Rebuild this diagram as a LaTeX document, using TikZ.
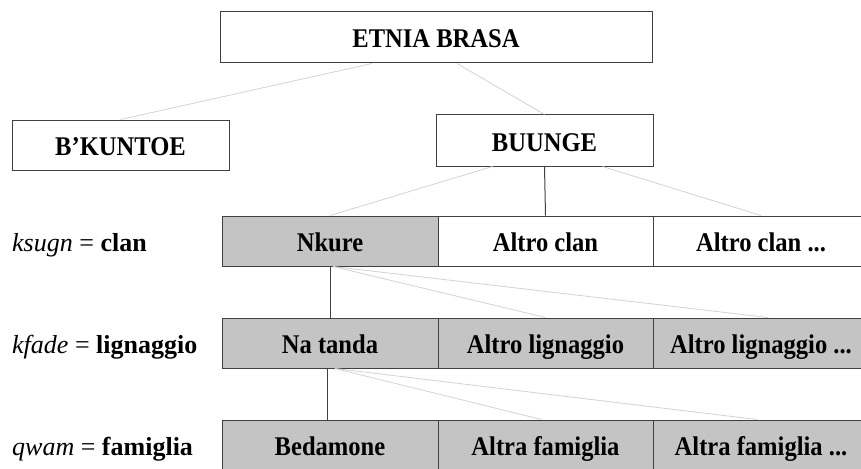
\documentclass[tikz,border=0pt]{standalone}
\usepackage{fontspec}
\setmainfont{Liberation Serif}
\newfontfamily\boxfont[FakeStretch=0.91]{Liberation Serif}
\usepackage{tikz}

\definecolor{boxline}{HTML}{404040}
\definecolor{boxfill}{HTML}{C4C4C4}
\definecolor{thinline}{HTML}{D2D2D2}

\begin{document}
\begin{tikzpicture}[x=1pt, y=-1pt,
    unit/.style={draw=boxline, line width=1pt, minimum width=216pt, minimum height=50pt,
        inner sep=0pt, text height=21pt, text depth=0pt,
        font=\boxfont\fontsize{27}{30}\selectfont\bfseries},
    shaded/.style={unit, fill=boxfill},
    level/.style={anchor=west, inner sep=0pt, text height=20pt, text depth=0pt,
        font=\fontsize{26}{30}\selectfont},
    mainlink/.style={draw=boxline, line width=1pt},
    sidelink/.style={draw=thinline, line width=0.8pt}]
    \useasboundingbox (0,0) rectangle (861,468);

    \node[unit, minimum width=432pt, minimum height=51pt] (etnia) at (436,37.5) {ETNIA BRASA};
    \node[unit, minimum width=217pt] (bkuntoe) at (120.5,145) {B’KUNTOE};
    \node[unit, minimum width=217pt, minimum height=51pt] (buunge) at (544.5,140.5) {BUUNGE};

    \node[shaded] (nkure) at (330,241) {Nkure};
    \node[unit, minimum width=215pt] (clanb) at (545.5,241) {Altro clan};
    \node[unit] (clanc) at (761,241) {Altro clan ...};

    \node[shaded] (natanda) at (330,343) {Na tanda};
    \node[shaded, minimum width=215pt] (lignb) at (545.5,343) {Altro lignaggio};
    \node[shaded] (lignc) at (761,343) {Altro lignaggio ...};

    \node[shaded] (bedamone) at (330,445) {Bedamone};
    \node[shaded, minimum width=215pt] (famb) at (545.5,445) {Altra famiglia};
    \node[shaded] (famc) at (761,445) {Altra famiglia ...};

    \node[level] (lvlclan) at (12,241) {\textit{ksugn} = \textbf{clan}};
    \node[level] (lvllign) at (12,343) {\textit{kfade} = \textbf{lignaggio}};
    \node[level] (lvlfam) at (12,445) {\textit{qwam} = \textbf{famiglia}};

    \draw[sidelink] ([xshift=-64pt]etnia.south) -- (bkuntoe.north);
    \draw[sidelink] ([xshift=21pt]etnia.south) -- (buunge.north);

    \draw[mainlink] (buunge.south) -- (clanb.north);
    \draw[sidelink] ([xshift=-52pt]buunge.south) -- (nkure.north);
    \draw[sidelink] ([xshift=58pt]buunge.south) -- (clanc.north);

    \draw[mainlink] (nkure.south) -- (natanda.north);
    \draw[sidelink] ([xshift=3pt]nkure.south) -- (lignb.north);
    \draw[sidelink] ([xshift=3pt]nkure.south) -- ([xshift=7pt]lignc.north);

    \draw[mainlink] ([xshift=-3pt]natanda.south) -- ([xshift=-3pt]bedamone.north);
    \draw[sidelink] ([xshift=5pt]natanda.south) -- ([xshift=-4pt]famb.north);
    \draw[sidelink] ([xshift=5pt]natanda.south) -- ([xshift=-4pt]famc.north);
\end{tikzpicture}
\end{document}
